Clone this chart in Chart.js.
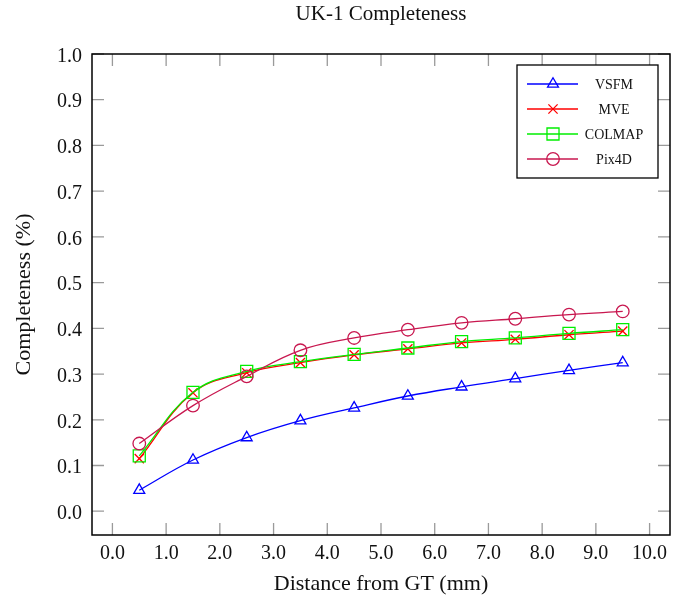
<!DOCTYPE html>
<html>
<head>
<meta charset="utf-8">
<script src="https://cdn.jsdelivr.net/npm/chart.js@4/dist/chart.umd.min.js"></script>
<style>
  html, body { margin: 0; padding: 0; background: #fff; }
  #wrap { width: 686px; height: 604px; }
</style>
</head>
<body>
<div id="wrap"><canvas id="chart" width="686" height="604"></canvas></div>
<script>
// Data
const distances = [0.5, 1.5, 2.5, 3.5, 4.5, 5.5, 6.5, 7.5, 8.5, 9.5];
const vsfm   = [0.046, 0.112, 0.161, 0.198, 0.226, 0.252, 0.272, 0.290, 0.308, 0.325];
const mve    = [0.115, 0.259, 0.303, 0.325, 0.342, 0.355, 0.368, 0.376, 0.386, 0.394];
const colmap = [0.121, 0.260, 0.306, 0.327, 0.343, 0.357, 0.371, 0.379, 0.389, 0.397];
const pix4d  = [0.148, 0.231, 0.295, 0.352, 0.379, 0.397, 0.412, 0.421, 0.430, 0.437];

const chartTitle = 'UK-1 Completeness';
const xTitle = 'Distance from GT (mm)';
const yTitle = 'Completeness (%)';

const SERIF = "'Liberation Serif', 'DejaVu Serif', serif";

// Function to build one series as {x, y} points
function toPoints(values) {
  return values.map((v, i) => ({ x: distances[i], y: v }));
}

function makeDataset(label, values, color, style, radius, order) {
  return {
    label: label,
    data: toPoints(values),
    borderColor: color,
    backgroundColor: 'rgba(0,0,0,0)',
    pointBorderColor: color,
    pointBackgroundColor: 'rgba(0,0,0,0)',
    pointStyle: style,
    pointRadius: radius,
    pointBorderWidth: 1.3,
    borderWidth: 1.3,
    tension: 0.4,
    order: order
  };
}

// Inward ticks on all four sides + black frame, like pgfplots
const framePlugin = {
  id: 'frame',
  beforeDatasetsDraw(chart) {
    const ctx = chart.ctx;
    const a = chart.chartArea;
    const xs = chart.scales.x, ys = chart.scales.y;
    const len = 12;
    ctx.save();
    ctx.strokeStyle = '#9a9a9a';
    ctx.lineWidth = 1.3;
    ctx.beginPath();
    xs.ticks.forEach(t => {
      const px = xs.getPixelForValue(t.value);
      ctx.moveTo(px, a.bottom); ctx.lineTo(px, a.bottom - len);
      ctx.moveTo(px, a.top); ctx.lineTo(px, a.top + len);
    });
    ys.ticks.forEach(t => {
      const py = ys.getPixelForValue(t.value);
      ctx.moveTo(a.left, py); ctx.lineTo(a.left + len, py);
      ctx.moveTo(a.right, py); ctx.lineTo(a.right - len, py);
    });
    ctx.stroke();
    ctx.strokeStyle = '#000';
    ctx.lineWidth = 1.5;
    ctx.strokeRect(a.left, a.top, a.right - a.left, a.bottom - a.top);
    ctx.restore();
  },
  afterDraw(chart) {
    // title centred over the plot area
    const ctx = chart.ctx;
    const a = chart.chartArea;
    ctx.save();
    ctx.fillStyle = '#111';
    ctx.font = '21px ' + SERIF;
    ctx.textAlign = 'center';
    ctx.textBaseline = 'alphabetic';
    ctx.fillText(chartTitle, (a.left + a.right) / 2, 20);
    ctx.restore();
  }
};

// Boxed legend inside the top-right corner
const legendPlugin = {
  id: 'boxLegend',
  afterDatasetsDraw(chart) {
    const ctx = chart.ctx;
    const a = chart.chartArea;
    const boxW = 141, boxH = 113;
    const left = a.right - 12 - boxW;
    const top = a.top + 11;
    ctx.save();
    ctx.fillStyle = '#fff';
    ctx.fillRect(left, top, boxW, boxH);
    ctx.strokeStyle = '#000';
    ctx.lineWidth = 1.3;
    ctx.strokeRect(left, top, boxW, boxH);
    chart.data.datasets.forEach((ds, i) => {
      const y = top + 19 + i * 25;
      ctx.strokeStyle = ds.borderColor;
      ctx.lineWidth = 1.3;
      ctx.beginPath();
      ctx.moveTo(left + 10, y);
      ctx.lineTo(left + 61, y);
      ctx.stroke();
      ctx.fillStyle = 'rgba(0,0,0,0)';
      Chart.helpers.drawPoint(ctx, {
        pointStyle: ds.pointStyle,
        radius: ds.pointRadius,
        rotation: 0,
        borderWidth: 1.3
      }, left + 36, y);
      ctx.fillStyle = '#111';
      ctx.font = '14px ' + SERIF;
      ctx.textAlign = 'center';
      ctx.textBaseline = 'middle';
      ctx.fillText(ds.label, left + 97, y + 1);
    });
    ctx.restore();
  }
};

new Chart(document.getElementById('chart').getContext('2d'), {
  type: 'line',
  data: {
    datasets: [
      makeDataset('VSFM', vsfm, '#0000ff', 'triangle', 6.3, 3),
      makeDataset('MVE', mve, '#ff0000', 'crossRot', 6.5, 2),
      makeDataset('COLMAP', colmap, '#00ee00', 'rect', 8.5, 1),
      makeDataset('Pix4D', pix4d, '#c8174f', 'circle', 6.3, 0)
    ]
  },
  options: {
    responsive: false,
    animation: false,
    devicePixelRatio: 1,
    layout: { padding: { top: 54, right: 16, left: 0, bottom: 0 } },
    plugins: {
      legend: { display: false },
      title: { display: false },
      tooltip: { enabled: false }
    },
    scales: {
      x: {
        type: 'linear',
        min: -0.38,
        max: 10.38,
        grid: { display: false, drawTicks: false },
        border: { display: false },
        ticks: {
          stepSize: 1,
          includeBounds: false,
          autoSkip: false,
          maxRotation: 0,
          padding: 7,
          color: '#111',
          font: { family: SERIF, size: 20 },
          callback: v => v.toFixed(1)
        },
        title: {
          display: true,
          text: xTitle,
          color: '#111',
          font: { family: SERIF, size: 22 },
          padding: { top: 0, bottom: 7 }
        },
        afterFit: s => { s.height = 69; }
      },
      y: {
        type: 'linear',
        min: -0.052,
        max: 1.0,
        grid: { display: false, drawTicks: false },
        border: { display: false },
        ticks: {
          stepSize: 0.1,
          includeBounds: false,
          autoSkip: false,
          padding: 10,
          labelOffset: 2.5,
          color: '#111',
          font: { family: SERIF, size: 20 },
          callback: v => v.toFixed(1)
        },
        title: {
          display: true,
          text: yTitle,
          color: '#111',
          font: { family: SERIF, size: 22 },
          padding: { top: 11, bottom: 0 }
        },
        afterFit: s => { s.width = 92; }
      }
    }
  },
  plugins: [framePlugin, legendPlugin]
});
</script>
</body>
</html>
